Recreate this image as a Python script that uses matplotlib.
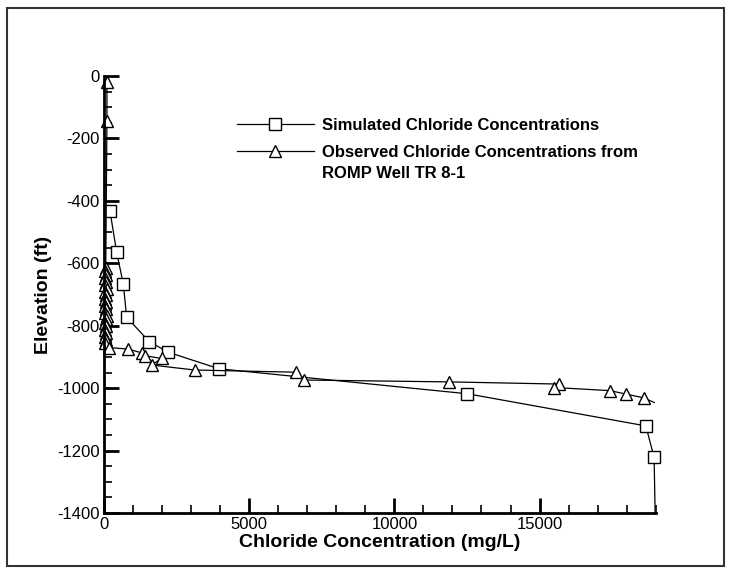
import matplotlib.pyplot as plt
from matplotlib.patches import Rectangle
from matplotlib.ticker import MultipleLocator

plt.rcParams["font.family"] = ["Liberation Sans", "DejaVu Sans"]
plt.rcParams["axes.unicode_minus"] = False  # plain hyphen like the original

# simulated profile (squares)
simConc = [206, 436, 665, 780, 1558, 2212, 3960, 12510, 18660, 18945, 18980]
simElev = [-433, -565, -667, -773, -851, -885, -938, -1018, -1121, -1222, -1400]

# observed profile from ROMP well TR 8-1 (triangles)
obsConc = [100, 100, 60, 40, 80, 30, 70, 50, 90, 40, 60, 30, 80, 50, 70, 40, 90, 60,
           30, 80, 50, 70, 40, 60, 30, 183, 837, 1296, 1410, 1983, 1640, 3130, 6625,
           6890, 11875, 15680, 15510, 17430, 17970, 18580, 18950]
obsElev = [-20, -145, -615, -626, -637, -648, -659, -670, -681, -692, -703, -714, -725,
           -736, -747, -758, -769, -780, -791, -802, -813, -824, -835, -846, -857, -870,
           -875, -887, -896, -905, -926, -942, -949, -974, -980, -987, -998, -1008,
           -1019, -1031, -1046]

simLabel = "Simulated Chloride Concentrations"
obsLabel = "Observed Chloride Concentrations from"
obsLabel2 = "ROMP Well TR 8-1"

fig = plt.figure(figsize=(7.31, 5.71), dpi=100)
ax = fig.add_axes([0.1423, 0.1016, 0.7547, 0.7653])

# last point of each line has no marker in the original
ax.plot(simConc, simElev, color="black", lw=0.9, marker="s", markersize=8,
        markerfacecolor="white", markeredgecolor="black", markeredgewidth=1,
        markevery=list(range(len(simConc) - 1)), clip_on=False, label=simLabel)
ax.plot(obsConc, obsElev, color="black", lw=0.9, marker="^", markersize=8,
        markerfacecolor="white", markeredgecolor="black", markeredgewidth=1,
        markevery=list(range(len(obsConc) - 1)), clip_on=False, label=obsLabel)

ax.set_xlim(0, 19000)
ax.set_ylim(-1400, 0)
ax.xaxis.set_major_locator(MultipleLocator(5000))
ax.xaxis.set_minor_locator(MultipleLocator(1000))
ax.yaxis.set_major_locator(MultipleLocator(200))
ax.yaxis.set_minor_locator(MultipleLocator(50))

for side in ["top", "right"]:
    ax.spines[side].set_visible(False)
for side in ["left", "bottom"]:
    ax.spines[side].set_linewidth(2)

ax.tick_params(which="major", direction="in", length=11, width=2, labelsize=12, pad=3)
ax.tick_params(which="minor", direction="in", length=6, width=1.2)

ax.set_xlabel("Chloride Concentration (mg/L)", fontsize=14, fontweight="bold", labelpad=1)
ax.set_ylabel("Elevation (ft)", fontsize=14, fontweight="bold", labelpad=4)

ax.legend(loc="upper left", bbox_to_anchor=(0.241, 0.905), frameon=False, borderpad=0,
          borderaxespad=0, handlelength=4.6, handletextpad=0.5, labelspacing=0.75,
          numpoints=1, prop={"size": 12, "weight": "bold"})
ax.text(0.395, 0.776, obsLabel2, transform=ax.transAxes, fontsize=12, fontweight="bold",
        va="center", ha="left")

# border round the whole figure
fig.patches.append(Rectangle((0.01, 0.009), 0.981, 0.977, transform=fig.transFigure,
                             fill=False, edgecolor="#333333", linewidth=1.5))

plt.savefig("out.png", dpi=100)
